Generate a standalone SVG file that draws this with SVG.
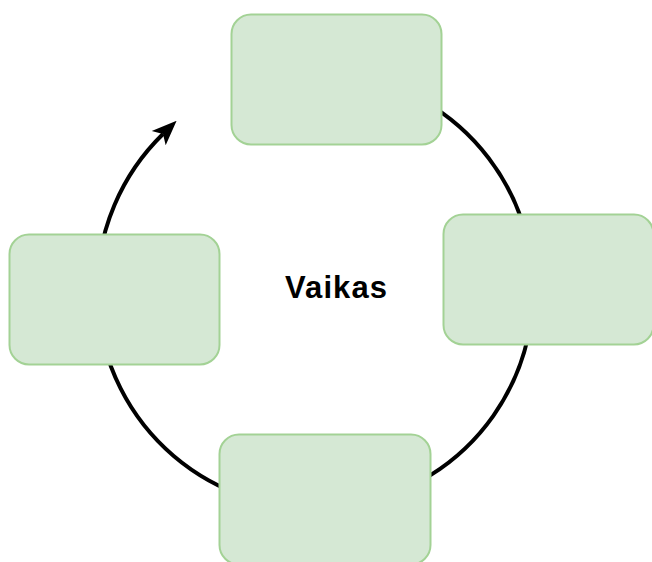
<svg xmlns="http://www.w3.org/2000/svg" width="652" height="562" viewBox="0 0 652 562">
  <style>
    .box { fill: #d5e8d4; stroke: #a3d295; stroke-width: 2; }
    .cycle { fill: none; stroke: #000; stroke-width: 4; }
    .label { font-family: "Liberation Sans", Arial, sans-serif; font-size: 31px; font-weight: bold; fill: #000; }
  </style>
  <defs>
    <marker id="arrow" markerUnits="userSpaceOnUse" markerWidth="25" markerHeight="22" viewBox="0 0 25 22" refX="6" refY="11" orient="auto">
      <path d="M0,1 L25,11 L0,21 L6,11 Z" fill="#000"/>
    </marker>
  </defs>
  <rect width="652" height="562" fill="#fff"/>

  <!-- circular flow line, clockwise, ending in an arrow at top-left -->
  <g id="connectors">
    <path class="cycle" d="M424,101.2 A218,218 0 1 1 163,134" marker-end="url(#arrow)"/>
  </g>

  <g id="node-top">
    <rect class="box" x="231.5" y="14.5" width="210" height="130" rx="19.5" ry="19.5"/>
  </g>
  <g id="node-right">
    <rect class="box" x="443.5" y="214.5" width="210" height="130" rx="19.5" ry="19.5"/>
  </g>
  <g id="node-bottom">
    <rect class="box" x="219.5" y="434.5" width="211" height="130" rx="19.5" ry="19.5"/>
  </g>
  <g id="node-left">
    <rect class="box" x="9.5" y="234.5" width="210" height="130" rx="19.5" ry="19.5"/>
  </g>

  <g id="center-label">
    <text class="label" x="285" y="298" textLength="102" lengthAdjust="spacing">Vaikas</text>
  </g>
</svg>
